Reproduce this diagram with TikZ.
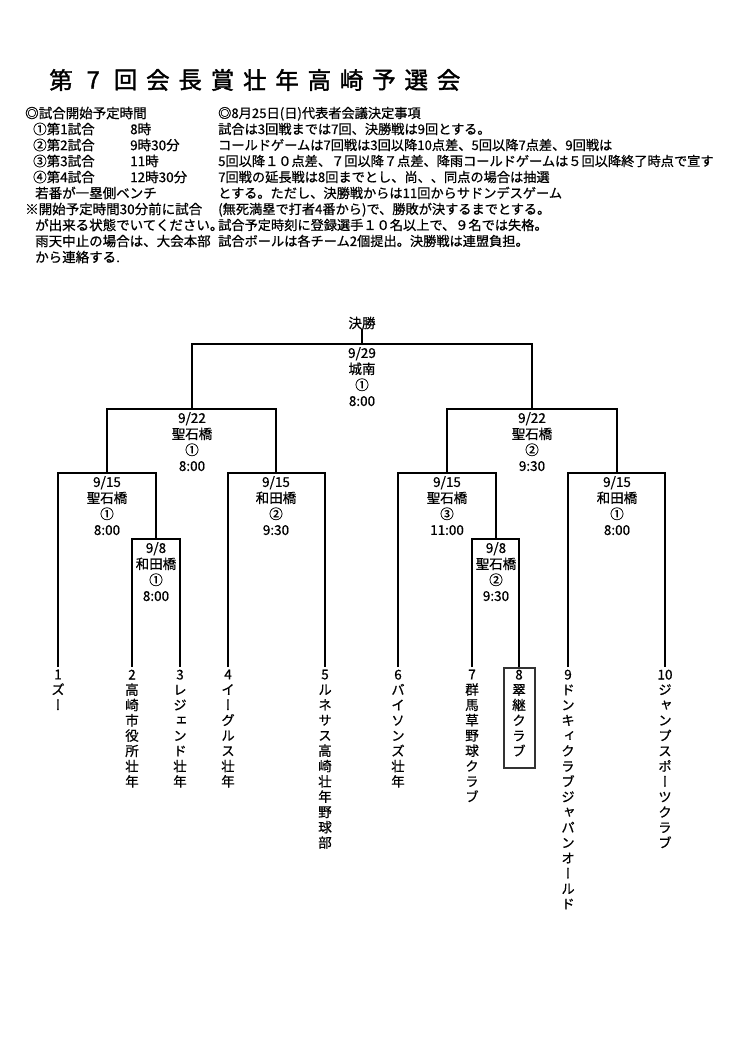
\documentclass[tikz,border=0pt]{standalone}
\usepackage{fontspec}
\setmainfont{Noto Sans CJK JP}[FakeBold=0.7]
\newfontfamily\ttljp{Noto Sans CJK JP}[FakeBold=1.6]
\newfontfamily\vjp{Noto Sans CJK JP}[RawFeature=+vert, FakeBold=0.7]
\begin{document}
\begin{tikzpicture}[x=1pt,y=-1pt,
  ttl/.style={font=\ttljp\fontsize{23.5}{23.5}\selectfont, inner sep=0},
  hdl/.style={font=\fontsize{13.5}{15}\selectfont, inner sep=0, anchor=west, text height=11.9pt, text depth=1.6pt},
  hdr/.style={font=\fontsize{13.2}{15}\selectfont, inner sep=0, anchor=west, text height=11.6pt, text depth=1.6pt},
  lbl/.style={font=\fontsize{13.5}{16}\selectfont, inner sep=0, align=center, anchor=north},
  team/.style={font=\vjp\fontsize{13.5}{15.3}\selectfont, inner sep=0, align=center, anchor=north},
  brk/.style={line width=1.3pt, black},
  box8/.style={draw=black!80, line width=2.4pt, inner sep=0, minimum width=31pt, minimum height=100pt, anchor=north}]
\useasboundingbox (0,0) rectangle (746,1056);
\fill[white] (0,0) rectangle (746,1056);

% title
\foreach \c [count=\i from 0] in {第,7,回,会,長,賞,壮,年,高,崎,予,選,会}
  \node[ttl] (title\i) at (61+32.3*\i,80) {\c};

% left header column
\node[hdl] (l1) at (25,113) {◎試合開始予定時間};
\node[hdl] (l2) at (33,129) {①第1試合};
\node[hdl] (l2t) at (130,129) {8時};
\node[hdl] (l3) at (33,145) {②第2試合};
\node[hdl] (l3t) at (130,145) {9時30分};
\node[hdl] (l4) at (33,161) {③第3試合};
\node[hdl] (l4t) at (130,161) {11時};
\node[hdl] (l5) at (33,177) {④第4試合};
\node[hdl] (l5t) at (130,177) {12時30分};
\node[hdl] (l6) at (35,193) {若番が一塁側ベンチ};
\node[hdl] (l7) at (25,209) {※開始予定時間30分前に試合};
\node[hdl] (l8) at (35,225) {が出来る状態でいてください。};
\node[hdl] (l9) at (35,241) {雨天中止の場合は、大会本部};
\node[hdl] (l10) at (35,257) {から連絡する.};

% right header column
\node[hdr] (r1) at (218,113) {◎8月25日(日)代表者会議決定事項};
\node[hdr] (r2) at (218,129) {試合は3回戦までは7回、決勝戦は9回とする。};
\node[hdr] (r3) at (218,145) {コールドゲームは7回戦は3回以降10点差、5回以降7点差、9回戦は};
\node[hdr] (r4) at (218,161) {5回以降１０点差、７回以降７点差、降雨コールドゲームは５回以降終了時点で宣す};
\node[hdr] (r5) at (218,177) {7回戦の延長戦は8回までとし、尚、、同点の場合は抽選};
\node[hdr] (r6) at (218,193) {とする。ただし、決勝戦からは11回からサドンデスゲーム};
\node[hdr] (r7) at (218,209) {(無死満塁で打者4番から)で、勝敗が決するまでとする。};
\node[hdr] (r8) at (218,225) {試合予定時刻に登録選手１０名以上で、９名では失格。};
\node[hdr] (r9) at (218,241) {試合ボールは各チーム2個提出。決勝戦は連盟負担。};

% bracket junctions
\coordinate (F) at (362,344);
\coordinate (S1) at (192,409);
\coordinate (S2) at (532,409);
\coordinate (Q1) at (107,473);
\coordinate (Q2) at (276,473);
\coordinate (Q3) at (447,473);
\coordinate (Q4) at (617,473);
\coordinate (R1) at (156,539);
\coordinate (R2) at (496,539);
\coordinate (T1) at (58,667);
\coordinate (T2) at (132,667);
\coordinate (T3) at (180,667);
\coordinate (T4) at (228,667);
\coordinate (T5) at (325,667);
\coordinate (T6) at (398,667);
\coordinate (T7) at (472,667);
\coordinate (T8) at (519,667);
\coordinate (T9) at (568,667);
\coordinate (T10) at (665,667);

\node[font=\fontsize{13.5}{16}\selectfont, inner sep=0] (final) at (362,323) {決勝};
\draw[brk] (final.south) -- (F);
\draw[brk] (S1) |- (F) -| (S2);
\draw[brk] (Q1) |- (S1) -| (Q2);
\draw[brk] (Q3) |- (S2) -| (Q4);
\draw[brk] (T1) |- (Q1) -| (R1);
\draw[brk] (T2) |- (R1) -| (T3);
\draw[brk] (T4) |- (Q2) -| (T5);
\draw[brk] (T6) |- (Q3) -| (R2);
\draw[brk] (T7) |- (R2) -| (T8);
\draw[brk] (T9) |- (Q4) -| (T10);

% match labels
\node[lbl] (Fl) at (362,347) {9/29\\城南\\①\\8:00};
\node[lbl] (S1l) at (192,412) {9/22\\聖石橋\\①\\8:00};
\node[lbl] (S2l) at (532,412) {9/22\\聖石橋\\②\\9:30};
\node[lbl] (Q1l) at (107,476) {9/15\\聖石橋\\①\\8:00};
\node[lbl] (Q2l) at (276,476) {9/15\\和田橋\\②\\9:30};
\node[lbl] (Q3l) at (447,476) {9/15\\聖石橋\\③\\11:00};
\node[lbl] (Q4l) at (617,476) {9/15\\和田橋\\①\\8:00};
\node[lbl] (R1l) at (156,542) {9/8\\和田橋\\①\\8:00};
\node[lbl] (R2l) at (496,542) {9/8\\聖石橋\\②\\9:30};

% teams
\node[team] (n1) at (58,669.5) {1\\ズ\\ー};
\node[team] (n2) at (132,669.5) {2\\高\\崎\\市\\役\\所\\壮\\年};
\node[team] (n3) at (180,669.5) {3\\レ\\ジ\\ェ\\ン\\ド\\壮\\年};
\node[team] (n4) at (228,669.5) {4\\イ\\ー\\グ\\ル\\ス\\壮\\年};
\node[team] (n5) at (325,669.5) {5\\ル\\ネ\\サ\\ス\\高\\崎\\壮\\年\\野\\球\\部};
\node[team] (n6) at (398,669.5) {6\\バ\\イ\\ソ\\ン\\ズ\\壮\\年};
\node[team] (n7) at (472,669.5) {7\\群\\馬\\草\\野\\球\\ク\\ラ\\ブ};
\node[team] (n8) at (519,669.5) {8\\翠\\継\\ク\\ラ\\ブ};
\node[team] (n9) at (568,669.5) {9\\ド\\ン\\キ\\ィ\\ク\\ラ\\ブ\\ジ\\ャ\\パ\\ン\\オ\\ー\\ル\\ド};
\node[team] (n10) at (665,669.5) {10\\ジ\\ャ\\ン\\プ\\ス\\ポ\\ー\\ツ\\ク\\ラ\\ブ};
\node[box8] (b8) at (519.5,667) {};
\end{tikzpicture}
\end{document}
